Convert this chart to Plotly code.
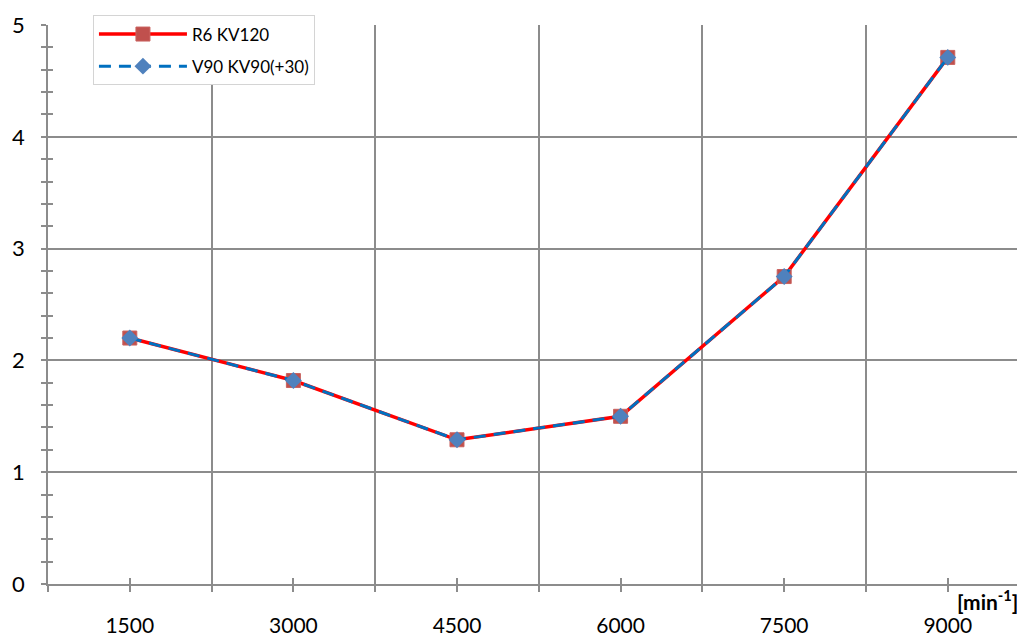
import plotly.graph_objects as go

categories = ["1500", "3000", "4500", "6000", "7500", "9000"]
r6_kv120 = [2.20, 1.82, 1.29, 1.50, 2.75, 4.71]
v90_kv90 = [2.20, 1.82, 1.29, 1.50, 2.75, 4.71]
y_ticks = [0, 1, 2, 3, 4, 5]

xpos = list(range(len(categories)))
GRID = "#8c8c8c"
FONT = "Lato, 'Open Sans', sans-serif"

fig = go.Figure()
fig.add_trace(go.Scatter(
    x=xpos, y=r6_kv120, name="R6 KV120", mode="lines+markers",
    legendgroup="a",
    line=dict(color="#FF0000", width=3.5),
    marker=dict(symbol="square", size=14, color="#C0504D",
                line=dict(color="#C9625F", width=1)),
))
fig.add_trace(go.Scatter(
    x=xpos, y=v90_kv90, name="V90 KV90(+30)", mode="lines+markers",
    legendgroup="b",
    line=dict(color="#0070C0", width=3, dash="12px,8px"),
    marker=dict(symbol="diamond", size=13, color="#4F81BD"),
))
# helper trace for overlay axes (inside half of cross tick marks)
fig.add_trace(go.Scatter(x=[xpos[0]], y=[y_ticks[0]], xaxis="x2", yaxis="y2",
                         mode="markers", marker=dict(opacity=0),
                         showlegend=False, hoverinfo="skip"))

xrange = [-0.5, 5.472]
fig.update_layout(
    width=1025, height=637,
    margin=dict(l=40, r=8, t=14, b=61),
    paper_bgcolor="white", plot_bgcolor="white",
    font=dict(family=FONT, color="#000000"),
    showlegend=True,
    legend=dict(
        x=0.046, y=1.017, xanchor="left", yanchor="top",
        bgcolor="white", bordercolor="#d4d4d4", borderwidth=1,
        font=dict(size=17, family=FONT), itemwidth=88,
        tracegroupgap=7, traceorder="grouped",
    ),
    xaxis=dict(
        range=xrange, tickmode="array", tickvals=xpos, ticktext=categories,
        automargin=False,
        showgrid=False, zeroline=False,
        showline=True, linecolor=GRID, linewidth=1.5,
        ticks="outside", ticklen=6, tickwidth=1.5, tickcolor=GRID,
        tickfont=dict(size=21, family=FONT), ticklabelstandoff=16,
        minor=dict(tick0=0.5, dtick=1, showgrid=True, gridcolor=GRID,
                   gridwidth=1.5, ticks="outside", ticklen=6,
                   tickwidth=1.5, tickcolor=GRID),
    ),
    yaxis=dict(
        range=[0, 5], tickmode="array", tickvals=y_ticks,
        automargin=False,
        showgrid=True, gridcolor=GRID, gridwidth=1.5, zeroline=False,
        showline=True, linecolor=GRID, linewidth=1.5,
        ticks="outside", ticklen=5, tickwidth=1.5, tickcolor=GRID,
        tickfont=dict(size=22, family=FONT), ticklabelstandoff=12,
        minor=dict(dtick=0.2, ticks="outside", ticklen=5, tickwidth=1.5,
                   tickcolor=GRID, showgrid=False),
    ),
    xaxis2=dict(
        overlaying="x", range=xrange, tickmode="array", tickvals=xpos,
        automargin=False,
        showticklabels=False, showgrid=False, zeroline=False, showline=False,
        ticks="inside", ticklen=6, tickwidth=1.5, tickcolor=GRID,
    ),
    yaxis2=dict(
        overlaying="y", range=[0, 5], tickmode="array", tickvals=y_ticks,
        automargin=False,
        showticklabels=False, showgrid=False, zeroline=False, showline=False,
        ticks="inside", ticklen=5, tickwidth=1.5, tickcolor=GRID,
        minor=dict(dtick=0.2, ticks="inside", ticklen=5, tickwidth=1.5,
                   tickcolor=GRID),
    ),
    annotations=[dict(
        text="<b>[min<sup>-1</sup>]</b>", xref="paper", yref="paper",
        x=0.995, y=-0.029, xanchor="right", yanchor="middle",
        showarrow=False, font=dict(size=21, family=FONT, color="#000000"),
    )],
)

fig.write_html("out.html")
